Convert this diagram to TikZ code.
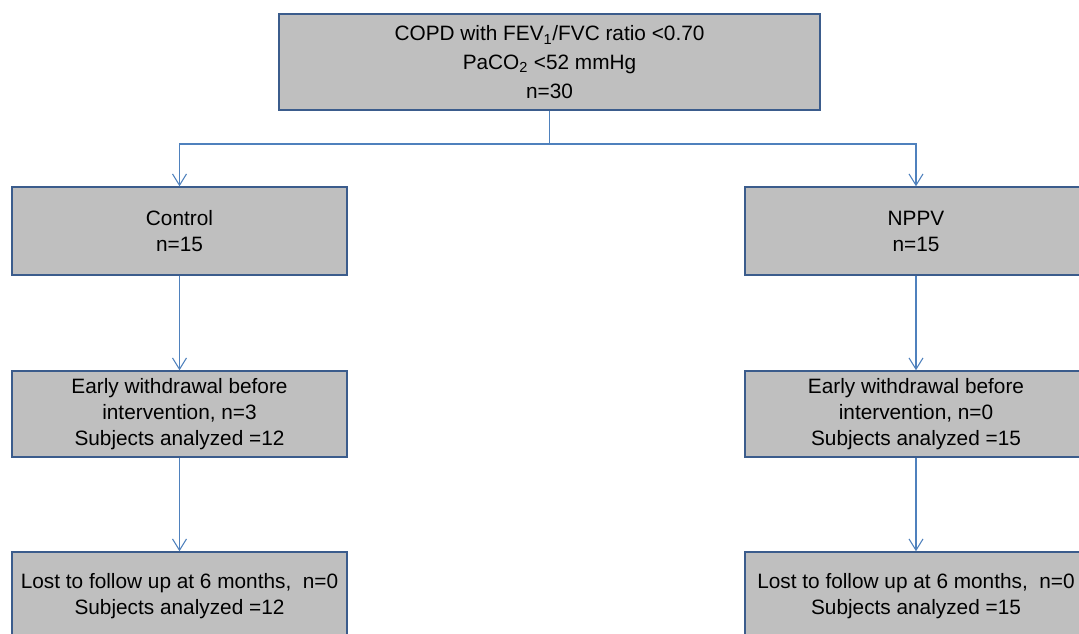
\documentclass[tikz,border=0pt]{standalone}
\usepackage{fontspec}
\setmainfont{Liberation Sans}
\usetikzlibrary{arrows.meta}
\definecolor{boxfill}{HTML}{BFBFBF}
\definecolor{boxline}{HTML}{3B5C8C}
\definecolor{conn}{HTML}{4F81BD}
\begin{document}
\begin{tikzpicture}[x=0.75pt,y=-0.75pt,
  box/.style={draw=boxline,fill=boxfill,line width=1.1pt,inner sep=0pt,align=center,
    font=\fontsize{15.6pt}{19.5pt}\selectfont},
  lbox/.style={box,minimum width=251.25pt},
  rbox/.style={box,minimum width=256.5pt},
  conline/.style={draw=conn,line width=0.8pt},
  arr/.style={conline,-{Straight Barb[length=8.5pt,width=10.5pt,line width=0.8pt]}}]
\useasboundingbox (0,0) rectangle (1079,633);
\clip (0,0) rectangle (1079,633);
\node[box,minimum width=405.75pt,minimum height=72pt,font=\fontsize{15.6pt}{21.5pt}\selectfont] (top) at (549.5,62)
  {COPD with FEV\textsubscript{1}/FVC ratio <0.70\\PaCO\textsubscript{2} <52 mmHg\\n=30};
\node[lbox,minimum height=66pt] (ctrl) at (179.5,231) {Control\\n=15};
\node[rbox,minimum height=66pt] (nppv) at (916,231) {NPPV\\n=15};
\node[lbox,minimum height=64.5pt] (earlyL) at (179.5,414) {Early withdrawal before\\intervention, n=3\\Subjects analyzed =12};
\node[rbox,minimum height=64.5pt] (earlyR) at (916,414) {Early withdrawal before\\intervention, n=0\\Subjects analyzed =15};
\node[lbox,minimum height=66pt] (lostL) at (179.5,596) {Lost to follow up at 6 months,\ \ n=0\\Subjects analyzed =12};
\node[rbox,minimum height=66pt] (lostR) at (916,596) {Lost to follow up at 6 months,\ \ n=0\\Subjects analyzed =15};
\coordinate (split) at (549.5,144);
\draw[conline] (top.south) -- (split);
\draw[arr] (split) -| (ctrl.north);
\draw[arr] (split) -| (nppv.north);
\draw[arr] (ctrl.south) -- (earlyL.north);
\draw[arr] (nppv.south) -- (earlyR.north);
\draw[arr] (earlyL.south) -- (lostL.north);
\draw[arr] (earlyR.south) -- (lostR.north);
\end{tikzpicture}
\end{document}
